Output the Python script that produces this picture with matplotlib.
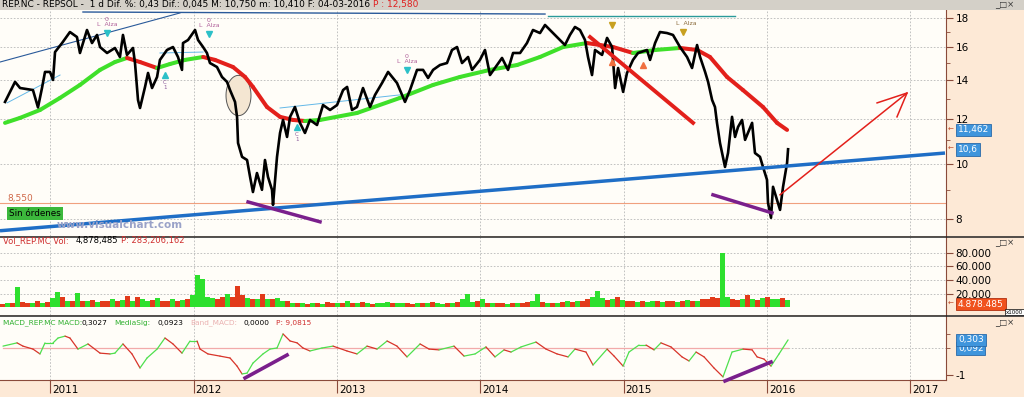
import numpy as np
import matplotlib.pyplot as plt
from matplotlib.collections import LineCollection
from matplotlib.lines import Line2D
from matplotlib.patches import Rectangle
from matplotlib.path import Path
from matplotlib.ticker import NullFormatter

# ---------------- data (dates as decimal years) ----------------
price_t = [2010.684, 2010.754, 2010.789, 2010.879, 2010.914, 2010.942, 2010.963, 2010.998,
           2011.019, 2011.033, 2011.082, 2011.137, 2011.186, 2011.207, 2011.256, 2011.291,
           2011.326, 2011.347, 2011.396, 2011.451, 2011.486, 2011.507, 2011.535, 2011.577,
           2011.591, 2011.612, 2011.626, 2011.661, 2011.682, 2011.710, 2011.745, 2011.765,
           2011.814, 2011.856, 2011.891, 2011.919, 2011.926, 2011.961, 2012.010, 2012.031,
           2012.066, 2012.093, 2012.114, 2012.163, 2012.198, 2012.233, 2012.254, 2012.289,
           2012.303, 2012.310, 2012.338, 2012.373, 2012.394, 2012.414, 2012.442, 2012.477,
           2012.498, 2012.519, 2012.547, 2012.554, 2012.582, 2012.603, 2012.624, 2012.652,
           2012.673, 2012.707, 2012.742, 2012.777, 2012.812, 2012.861, 2012.903, 2012.952,
           2013.001, 2013.043, 2013.071, 2013.105, 2013.140, 2013.182, 2013.231, 2013.266,
           2013.315, 2013.357, 2013.419, 2013.475, 2013.510, 2013.559, 2013.601, 2013.636,
           2013.671, 2013.719, 2013.768, 2013.803, 2013.838, 2013.873, 2013.915, 2013.943,
           2013.998, 2014.033, 2014.068, 2014.117, 2014.152, 2014.194, 2014.229, 2014.278,
           2014.326, 2014.368, 2014.417, 2014.452, 2014.501, 2014.536, 2014.591, 2014.626,
           2014.661, 2014.696, 2014.731, 2014.752, 2014.780, 2014.801, 2014.850, 2014.885,
           2014.920, 2014.941, 2014.962, 2014.997, 2015.024, 2015.066, 2015.101, 2015.164,
           2015.185, 2015.220, 2015.254, 2015.303, 2015.345, 2015.394, 2015.443, 2015.478,
           2015.513, 2015.534, 2015.569, 2015.590, 2015.618, 2015.638, 2015.652, 2015.673,
           2015.708, 2015.729, 2015.757, 2015.778, 2015.799, 2015.827, 2015.848, 2015.897,
           2015.917, 2015.952, 2015.973, 2016.001, 2016.008, 2016.029, 2016.043, 2016.071,
           2016.092, 2016.113, 2016.141, 2016.148]
price = [12.83, 13.91, 13.57, 13.46, 12.55, 13.57, 14.48, 14.48, 14.02, 15.69, 16.27, 17.01,
         16.67, 15.63, 17.15, 16.27, 16.81, 16.01, 15.63, 15.95, 15.38, 16.81, 15.51, 15.95,
         15.01, 12.93, 12.52, 13.63, 14.42, 13.57, 14.19, 15.20, 15.82, 16.01, 15.38, 14.60,
         16.27, 16.47, 17.15, 16.47, 16.01, 15.63, 15.01, 14.77, 14.19, 13.91, 13.46, 12.83,
         12.08, 10.87, 10.28, 10.15, 9.48, 8.92, 9.63, 9.00, 10.15, 9.48, 9.00, 8.47,
         10.28, 11.32, 11.93, 11.14, 12.08, 12.57, 11.79, 11.32, 11.93, 11.69, 12.67, 12.42,
         12.67, 13.46, 13.63, 12.42, 12.57, 13.57, 12.57, 13.20, 13.85, 14.48, 13.85, 12.83,
         13.46, 14.60, 14.60, 14.13, 14.60, 14.89, 15.01, 15.82, 16.01, 15.01, 15.38, 14.60,
         15.20, 15.82, 14.30, 14.89, 15.32, 14.60, 15.63, 15.63, 16.27, 17.15, 16.94, 17.50,
         17.01, 16.67, 16.14, 16.81, 17.36, 17.15, 16.47, 15.38, 14.30, 15.82, 15.51, 16.61,
         16.01, 13.57, 14.71, 13.36, 14.42, 15.20, 15.63, 15.82, 15.20, 16.27, 17.01, 16.94,
         16.81, 16.01, 15.38, 14.71, 16.14, 15.38, 14.48, 13.91, 12.93, 12.57, 11.79, 10.87,
         9.87, 10.44, 12.08, 11.14, 11.60, 11.93, 11.01, 11.79, 10.44, 10.28, 9.87, 9.37,
         8.54, 8.04, 9.11, 8.64, 8.30, 9.11, 10.03, 10.60]

ma_t = [2010.684, 2010.789, 2010.928, 2011.068, 2011.207, 2011.347, 2011.451, 2011.535,
        2011.626, 2011.745, 2011.835, 2011.940, 2012.066, 2012.149, 2012.275, 2012.359,
        2012.414, 2012.512, 2012.603, 2012.694, 2012.777, 2012.882, 2013.140, 2013.440,
        2013.671, 2013.859, 2014.068, 2014.257, 2014.417, 2014.578, 2014.745, 2014.836,
        2014.927, 2015.066, 2015.220, 2015.394, 2015.513, 2015.603, 2015.722, 2015.833,
        2015.973, 2016.071, 2016.141]
ma = [11.79, 12.03, 12.42, 13.04, 13.74, 14.60, 15.07, 15.32, 15.07, 14.71, 14.95, 15.20,
      15.38, 15.20, 14.77, 14.19, 13.63, 12.57, 12.08, 11.93, 11.88, 11.93, 12.27, 13.04,
      13.74, 14.19, 14.60, 14.89, 15.38, 16.01, 16.27, 16.14, 16.01, 15.63, 15.82, 15.95,
      15.82, 15.38, 14.19, 13.46, 12.57, 11.79, 11.46]

# volume in millions, one value per ~13 day block, with dominant direction
vol_start, vol_step = 2010.666, 0.0349
vol = [5, 6, 7, 30, 8, 6, 7, 9, 7, 8, 14, 22, 15, 10, 9, 21, 10, 9, 11, 8,
       10, 9, 12, 9, 11, 17, 10, 15, 12, 10, 11, 14, 10, 9, 12, 10, 11, 13, 18, 48,
       42, 16, 14, 12, 15, 20, 16, 31, 18, 14, 13, 12, 20, 13, 12, 14, 10, 9, 7, 6,
       6, 5, 7, 6, 5, 8, 6, 7, 6, 9, 6, 7, 8, 6, 5, 7, 6, 8, 6, 7,
       6, 7, 5, 6, 7, 6, 8, 6, 5, 7, 6, 8, 12, 19, 8, 9, 12, 7, 6, 7,
       6, 5, 7, 6, 7, 8, 9, 20, 8, 7, 6, 7, 8, 9, 8, 10, 9, 12, 16, 24,
       14, 11, 12, 15, 11, 9, 10, 8, 9, 8, 10, 9, 8, 9, 10, 8, 9, 11, 10, 9,
       12, 13, 16, 14, 80, 15, 12, 11, 13, 18, 12, 11, 14, 16, 13, 12, 14, 11]
vol_dir = ("rgrgrrgrgr" "ggrgrgrgrg" "rrgrgrgrgg" "rgrrgrgrgg" "gggrrgrrrg"
           "rgrgrggrgr" "grgrgrrgrg" "rgrgrgggrg" "grrgrgrggr" "grgggrgrgr"
           "rgrgrrggrg" "rgrgrgrrgg" "grgrgrrgrg" "grgrrgrgrg" "rrrrggrrgr" "grgrggrg")
vol_last = 4.878

macd_t = [2010.670, 2010.768, 2010.809, 2010.879, 2010.928, 2010.963, 2011.019, 2011.054,
          2011.103, 2011.137, 2011.193, 2011.263, 2011.347, 2011.417, 2011.451, 2011.507,
          2011.570, 2011.626, 2011.675, 2011.745, 2011.800, 2011.856, 2011.919, 2011.975,
          2012.024, 2012.045, 2012.100, 2012.184, 2012.254, 2012.303, 2012.338, 2012.373,
          2012.414, 2012.484, 2012.533, 2012.582, 2012.624, 2012.673, 2012.722, 2012.763,
          2012.812, 2012.896, 2012.973, 2013.070, 2013.140, 2013.210, 2013.280, 2013.350,
          2013.419, 2013.489, 2013.580, 2013.643, 2013.712, 2013.817, 2013.887, 2013.964,
          2014.040, 2014.103, 2014.166, 2014.215, 2014.285, 2014.389, 2014.459, 2014.536,
          2014.613, 2014.661, 2014.738, 2014.787, 2014.885, 2014.934, 2014.997, 2015.038,
          2015.108, 2015.157, 2015.213, 2015.261, 2015.331, 2015.408, 2015.457, 2015.506,
          2015.562, 2015.631, 2015.694, 2015.757, 2015.834, 2015.897, 2015.932, 2015.980,
          2016.029, 2016.085, 2016.148]
macd = [0.07, 0.19, 0.07, -0.04, -0.22, 0.19, 0.19, 0.37, 0.44, 0.37, -0.04, 0.15, -0.19,
        -0.22, -0.19, 0.15, -0.22, -0.74, -0.37, -0.04, 0.37, 0.15, -0.19, 0.26, 0.26, -0.04,
        -0.22, -0.30, -0.37, -0.67, -0.96, -0.93, -0.56, -0.22, -0.04, 0.00, 0.52, 0.26, 0.19,
        0.00, -0.11, 0.00, 0.07, -0.11, -0.22, 0.07, -0.04, 0.26, 0.07, -0.33, 0.15, -0.04,
        -0.07, 0.07, -0.30, -0.22, 0.04, -0.33, -0.07, -0.15, 0.04, 0.22, -0.04, -0.22, -0.33,
        -0.04, -0.15, -0.63, -0.04, -0.30, -0.67, -0.15, 0.11, 0.11, -0.07, 0.19, 0.04, -0.33,
        -0.48, -0.15, -0.33, -0.74, -1.07, -0.15, -0.04, -0.07, -0.33, -0.41, -0.67, -0.22, 0.30]
macd_last, signal_last = 0.3027, 0.0923

# hand drawn lines on the chart (date, price)
blue_trend_t, blue_trend_p = [2010.649, 2017.243], [7.63, 10.44]
red_trend_t, red_trend_p = [2014.766, 2015.485], [16.67, 11.79]
purple1_t, purple1_p = [2012.380, 2012.882], [8.57, 7.91]
purple2_t, purple2_p = [2015.624, 2016.036], [8.82, 8.20]
arrow_t, arrow_p = [2016.092, 2016.978], [8.82, 13.30]
arrow_head_t, arrow_head_p = [2016.769, 2016.978, 2016.908], [12.78, 13.30, 12.08]
chan_t, chan_p = [2010.649, 2011.905], [15.07, 18.37]
top_t, top_p = [2011.228, 2014.452], [18.44, 18.29]
teal_t, teal_p = [2014.473, 2015.778], [18.18, 18.18]
thin_segs = [([2010.698, 2011.068], [12.78, 14.30]),
             ([2011.765, 2012.066], [15.63, 15.69]),
             ([2012.603, 2013.440], [12.52, 13.20])]
macd_purple = [([2012.359, 2012.652], [-1.11, -0.26]),
               ([2015.708, 2016.029], [-1.22, -0.52])]
alza_t, alza_p = [2011.396, 2012.107, 2013.489], [16.94, 16.88, 14.60]
up_t, up_p = [2011.800, 2012.722], [14.30, 11.60]
gold_t, gold_p = [2014.920, 2015.415], [17.50, 17.01]
orange_t, orange_p = [2014.920, 2015.136], [15.07, 14.89]
ellipse_t, ellipse_p = 2012.310, 13.20
level = 8.55

years = [2011, 2012, 2013, 2014, 2015, 2016, 2017]
price_ticks = [8, 10, 12, 14, 16, 18]
vol_ticks = [20, 40, 60, 80]

# ---------------- layout ----------------
W, H = 1024, 397
T0, T1 = 2010.649, 2017.25
PEACH = '#fde9d6'
CREAM = '#fffdf8'
BROWN = '#8a4a3a'
GREEN = '#3fe02a'
RED = '#e3201b'
BLUEBOX = dict(boxstyle='square,pad=0.2', fc='#3f95dc', ec='#2a6aa8', lw=0.6)
GRID = dict(ls=(0, (2, 2)), color='#b8b8b8', lw=0.6)

plt.rcParams['font.family'] = 'DejaVu Sans'
fig = plt.figure(figsize=(W / 100, H / 100), dpi=100)
fig.patch.set_facecolor(PEACH)


def box(top, bottom, left=0, right=946):
    return [left / W, 1 - bottom / H, (right - left) / W, (bottom - top) / H]


def fy(px):
    return 1 - px / H


ax_p = fig.add_axes(box(10, 236))
ax_v = fig.add_axes(box(237, 315))
ax_m = fig.add_axes(box(316, 380))

for ax in (ax_p, ax_v, ax_m):
    ax.set_facecolor(CREAM)
    ax.set_xlim(T0, T1)
    for s in ('left', 'top', 'bottom'):
        ax.spines[s].set_visible(False)
    ax.spines['right'].set_color(BROWN)
    ax.yaxis.tick_right()
    ax.tick_params(axis='y', which='major', direction='out', length=5, color=BROWN,
                   labelcolor='black', labelsize=7.5, pad=2)
    ax.tick_params(axis='y', which='minor', direction='out', length=3, color=BROWN)
    ax.set_xticks(years)
    ax.tick_params(axis='x', length=0, labelbottom=False)
    ax.grid(axis='x', **GRID)
    ax.set_axisbelow(True)


def slope_line(ax, t, v, lw, z, up=GREEN, down=RED):
    pts = np.column_stack([t, v])
    segs = np.stack([pts[:-1], pts[1:]], axis=1)
    cols = [up if b >= a else down for a, b in zip(v[:-1], v[1:])]
    ax.add_collection(LineCollection(segs, colors=cols, linewidths=lw,
                                     capstyle='round', joinstyle='round', zorder=z))


def side_label(ax, value, text, box_style, dy=0):
    ax.annotate(text, xy=(1, value), xycoords=('axes fraction', 'data'),
                xytext=(12, dy), textcoords='offset pixels', ha='left', va='center',
                color='white', size=6.5, annotation_clip=False, bbox=box_style)


def side_arrow(ax, value):
    ax.annotate('\u2190', xy=(1, value), xycoords=('axes fraction', 'data'), xytext=(2, 0),
                textcoords='offset pixels', ha='left', va='center', size=5,
                color='#c05030', annotation_clip=False)


# ---------------- price panel ----------------
ax_p.set_yscale('log')
ax_p.set_ylim(7.47, 18.59)
ax_p.set_yticks(price_ticks)
ax_p.set_yticklabels([str(v) for v in price_ticks])
ax_p.set_yticks([9, 11, 13, 15, 17], minor=True)
ax_p.yaxis.set_minor_formatter(NullFormatter())
ax_p.grid(axis='y', which='major', **GRID)

ax_p.axhline(level, color='#f0a07e', lw=0.8, zorder=2)

theta = np.linspace(0, 2 * np.pi, 64)
ell = Path(np.column_stack([0.62 * np.cos(theta), np.sin(theta)]), closed=True)
ax_p.plot([ellipse_t], [ellipse_p], marker=ell, ms=29, mfc='#f4e6d2', mec='#555555',
          mew=0.7, zorder=3)

ax_p.plot(chan_t, chan_p, color='#2a5a9a', lw=0.8, zorder=3)
ax_p.plot(top_t, top_p, color='#2a5a9a', lw=1.0, zorder=3, clip_on=False)
ax_p.plot(teal_t, teal_p, color='#2a9a9a', lw=1.0, zorder=3, clip_on=False)
for st, sp in thin_segs:
    ax_p.plot(st, sp, color='#63b8e8', lw=0.7, zorder=3)

slope_line(ax_p, ma_t, ma, 2.9, 4)
ax_p.plot(price_t, price, color='black', lw=1.9, zorder=5)

ax_p.plot(blue_trend_t, blue_trend_p, color='#1f6ec6', lw=2.5, zorder=6, solid_capstyle='butt')
ax_p.plot(red_trend_t, red_trend_p, color=RED, lw=2.8, zorder=6)
ax_p.plot(purple1_t, purple1_p, color='#7a1f8c', lw=2.5, zorder=6)
ax_p.plot(purple2_t, purple2_p, color='#7a1f8c', lw=2.5, zorder=6)
ax_p.plot(arrow_t, arrow_p, color=RED, lw=1.1, zorder=6)
ax_p.plot(arrow_head_t, arrow_head_p, color=RED, lw=1.1, zorder=6)

ax_p.plot(alza_t, alza_p, 'v', color='#2cc0c8', ms=5, zorder=7)
ax_p.plot(up_t, up_p, '^', color='#2cc0c8', ms=5, zorder=7)
ax_p.plot(gold_t, gold_p, 'v', color='#c8a020', ms=5, zorder=7)
ax_p.plot(orange_t, orange_p, '^', color='#f07040', ms=5, zorder=7)
for t, p in zip(alza_t, alza_p):
    ax_p.annotate('0\nL  Alza', (t, p), xytext=(0, 6), textcoords='offset pixels',
                  ha='center', va='bottom', size=4.5, color='#b0609a', linespacing=0.9)
ax_p.annotate('L  Alza', (gold_t[1], gold_p[1]), xytext=(3, 6), textcoords='offset pixels',
              ha='center', va='bottom', size=4.5, color='#8a6a3a')
for t, p in zip(up_t, up_p):
    ax_p.annotate('C\n1', (t, p), xytext=(0, -5), textcoords='offset pixels',
                  ha='center', va='top', size=4, color='#8a5a9a', linespacing=0.9)

# right side value boxes
side_label(ax_p, ma[-1], '11,462', BLUEBOX)
side_label(ax_p, price[-1], '10,6', BLUEBOX)
side_arrow(ax_p, ma[-1])
side_arrow(ax_p, price[-1])

fig.text(7 / W, fy(198), '8,550', color='#d0694a', size=6.5, va='center')
fig.text(9 / W, fy(213.5), 'Sin órdenes', color='black', size=6.3, va='center',
         bbox=dict(boxstyle='square,pad=0.2', fc='#3cb83c', ec='none'))
fig.text(57 / W, fy(225), 'www.visualchart.com', color='#9aa2c8', size=7.5,
         weight='bold', va='center')

# ---------------- volume panel ----------------
vol_t = vol_start + vol_step * np.arange(len(vol))
vol_cols = ['#2ee02e' if c == 'g' else '#e23a1a' for c in vol_dir]
ax_v.bar(vol_t, vol, width=vol_step, color=vol_cols, linewidth=0, zorder=3)
ax_v.set_ylim(-11, 103)
ax_v.set_yticks(vol_ticks)
ax_v.set_yticklabels(['%d.000' % v for v in vol_ticks])
ax_v.grid(axis='y', **GRID)
side_label(ax_v, vol_last, '4.878.485',
           dict(boxstyle='square,pad=0.2', fc='#f0521e', ec='#b03010', lw=0.6))
side_arrow(ax_v, vol_last)
fig.text(1023 / W, fy(312), 'x1000', size=4, va='center', ha='right',
         bbox=dict(boxstyle='square,pad=0.12', fc='white', ec='black', lw=0.5))

# ---------------- MACD panel ----------------
ax_m.set_ylim(-1.185, 1.185)
ax_m.set_yticks([-1])
ax_m.set_yticklabels(['-1'])
ax_m.set_yticks([0.5, 0], minor=True)
ax_m.plot([macd_t[0], macd_t[-1]], [0, 0], color='#f2aaaa', lw=0.9, zorder=2)
ax_m.plot([macd_t[-1], T1], [0, 0], **GRID)
slope_line(ax_m, macd_t, macd, 0.9, 4, up='#4ee04e', down='#d8342a')
for st, sv in macd_purple:
    ax_m.plot(st, sv, color='#7a1f8c', lw=2.6, zorder=6, clip_on=False)
side_label(ax_m, signal_last, '0,092', BLUEBOX, dy=-3)
side_label(ax_m, macd_last, '0,303', BLUEBOX)

ax_m.spines['bottom'].set_visible(True)
ax_m.spines['bottom'].set_color(BROWN)
ax_m.tick_params(axis='x', length=9, direction='out', color=BROWN, width=0.8)
for yr in years:
    ax_m.annotate(str(yr), xy=(yr, 0), xycoords=('data', 'axes fraction'), xytext=(2, -10),
                  textcoords='offset pixels', ha='left', va='center', size=7.5,
                  annotation_clip=False)

# ---------------- frame: title bar, headers, separators ----------------
fig.add_artist(Rectangle((0, fy(10)), 1, 10 / H, transform=fig.transFigure,
                         fc='#d4d0c8', ec='none'))
for y in (236.5, 315.5):
    fig.add_artist(Line2D([0, 1], [fy(y), fy(y)], color='#222222', lw=1.1))

fig.text(2 / W, fy(5), 'REP.NC - REPSOL -  1 d Dif. %: 0,43 Dif.: 0,045 M: 10,750 '
         'm: 10,410 F: 04-03-2016', size=6.5, va='center')
fig.text(373 / W, fy(5), 'P : 12,580', size=6.5, va='center', color='#e02020')
for y in (5, 243, 323):
    fig.text(995 / W, fy(y), '_\u25a1\u00d7', size=6, va='center', color='#333333')

vol_head = [(3, 'Vol_REP.MC Vol:', '#d03030'), (76, '4,878,485', 'black'),
            (121, 'P: 283,206,162', '#d03030')]
for x, s, c in vol_head:
    fig.text(x / W, fy(241), s, size=6, va='center', color=c)
macd_head = [(3, 'MACD_REP.MC MACD:', '#30b030'), (82, '0,3027', 'black'),
             (114, 'MediaSig:', '#30b030'), (157, '0,0923', 'black'),
             (190, 'Band_MACD:', '#eab0b0'), (243, '0,0000', 'black'),
             (276, 'P: 9,0815', '#d03030')]
for x, s, c in macd_head:
    fig.text(x / W, fy(323), s, size=5.3, va='center', color=c)

fig.savefig('out.png', dpi=100, facecolor=fig.get_facecolor())
